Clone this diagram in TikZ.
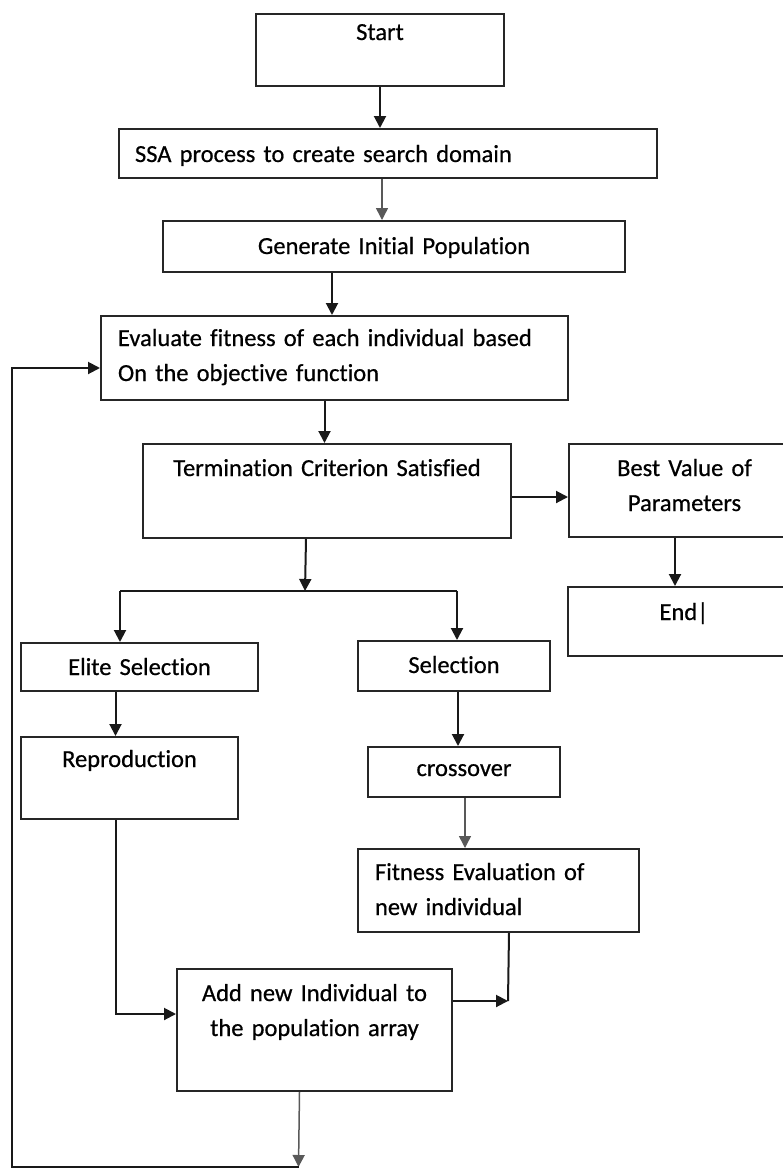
\documentclass[tikz,border=0pt]{standalone}
\usepackage{fontspec}
\setmainfont{Carlito}[Ligatures=NoCommon, FakeBold=0.6]
\usetikzlibrary{arrows.meta}

\begin{document}
\begin{tikzpicture}[x=1pt,y=-1pt,
  box/.style={draw=black!85, line width=2pt, rectangle, inner sep=0pt,
    anchor=north west, align=center, font=\fontsize{24.5pt}{35pt}\selectfont},
  flow/.style={line width=2pt, black!90, -{Triangle[length=12pt,width=12pt]}},
  thinflow/.style={line width=1.5pt, black!65, -{Triangle[length=12pt,width=12pt]}},
  link/.style={line width=2pt, black!90}]
\clip (0,0) rectangle (783,1170);

% boxes
\node[box, text width=248pt, text height=26pt, text depth=46pt] (start) at (255,13) {Start};
\node[box, text width=506pt, inner xsep=16pt, align=left, text height=33pt, text depth=16pt] (ssa) at (118,128) {SSA process to create search domain};
\node[box, text width=462pt, text height=33pt, text depth=18pt] (gen) at (162,220) {Generate Initial Population};
\node[box, text width=433pt, inner xsep=17pt, align=left, text height=30pt, text depth=54pt] (eval) at (100,315) {Evaluate fitness of each individual based\\On the objective function};
\node[box, text width=368pt, text height=32pt, text depth=62pt] (term) at (142,443) {Termination Criterion Satisfied};
\node[box, text width=231pt, text height=32pt, text depth=61pt] (best) at (568,443) {Best Value of\\Parameters};
\node[box, text width=232pt, text height=33pt, text depth=36pt] (end) at (567,586) {End|};
\node[box, text width=237pt, text height=32pt, text depth=16pt] (elite) at (20,642) {Elite Selection};
\node[box, text width=192pt, text height=32pt, text depth=18pt] (sel) at (357,640) {Selection};
\node[box, text width=217pt, text height=30pt, text depth=52pt] (repro) at (20,736) {Reproduction};
\node[box, text width=192pt, text height=29pt, text depth=21pt] (cross) at (367,746) {crossover};
\node[box, text width=247pt, inner xsep=17pt, align=left, text height=31pt, text depth=52pt] (fit) at (357,848) {Fitness Evaluation of\\new individual};
\node[box, text width=275pt, text height=32pt, text depth=90pt] (add) at (176,968) {Add new Individual to\\the population array};

% junction points
\coordinate (split) at (305,591);
\coordinate (splitl) at (120,591);
\coordinate (splitr) at (457,591);
\coordinate (join) at (508,1001);
\coordinate (loop) at (298.5,1167);
\coordinate (back) at (12,368);

% main flow
\draw[flow] (start.south) -- (start.south |- ssa.north);
\draw[thinflow] ([xshift=-6pt]ssa.south) -- ([xshift=-6pt]ssa.south |- gen.north);
\draw[flow] ([xshift=-62pt]gen.south) -- ([xshift=-62pt]gen.south |- eval.north);
\draw[flow] ([xshift=-10pt]eval.south) -- ([xshift=-10pt]eval.south |- term.north);
\draw[flow] ([yshift=-6pt]term.east) -- ([yshift=-6pt]term.east -| best.west);
\draw[flow] ([xshift=-9.5pt]best.south) -- ([xshift=-9.5pt]best.south |- end.north);

% branches
\draw[flow] ([xshift=-21pt]term.south) -- (split);
\draw[link] (splitl) -- (splitr);
\draw[flow] (splitl) -- (splitl |- elite.north);
\draw[flow] (splitr) -- (splitr |- sel.north);
\draw[flow] ([xshift=-24pt]elite.south) -- ([xshift=-24pt]elite.south |- repro.north);
\draw[flow] ([xshift=4pt]sel.south) -- ([xshift=4pt]sel.south |- cross.north);
\draw[thinflow] ([xshift=1pt]cross.south) -- ([xshift=1pt]cross.south |- fit.north);

% merge
\draw[link] ([xshift=10.5pt]fit.south) -- (join);
\draw[flow] (add.east |- join) -- (join);
\draw[flow] ([xshift=-14pt]repro.south) |- ([yshift=16pt]add.west);

% loop back
\draw[thinflow] ([xshift=-15pt]add.south) -- (loop);
\draw[flow] (loop) -| (back) -- (back -| eval.west);
\end{tikzpicture}
\end{document}
